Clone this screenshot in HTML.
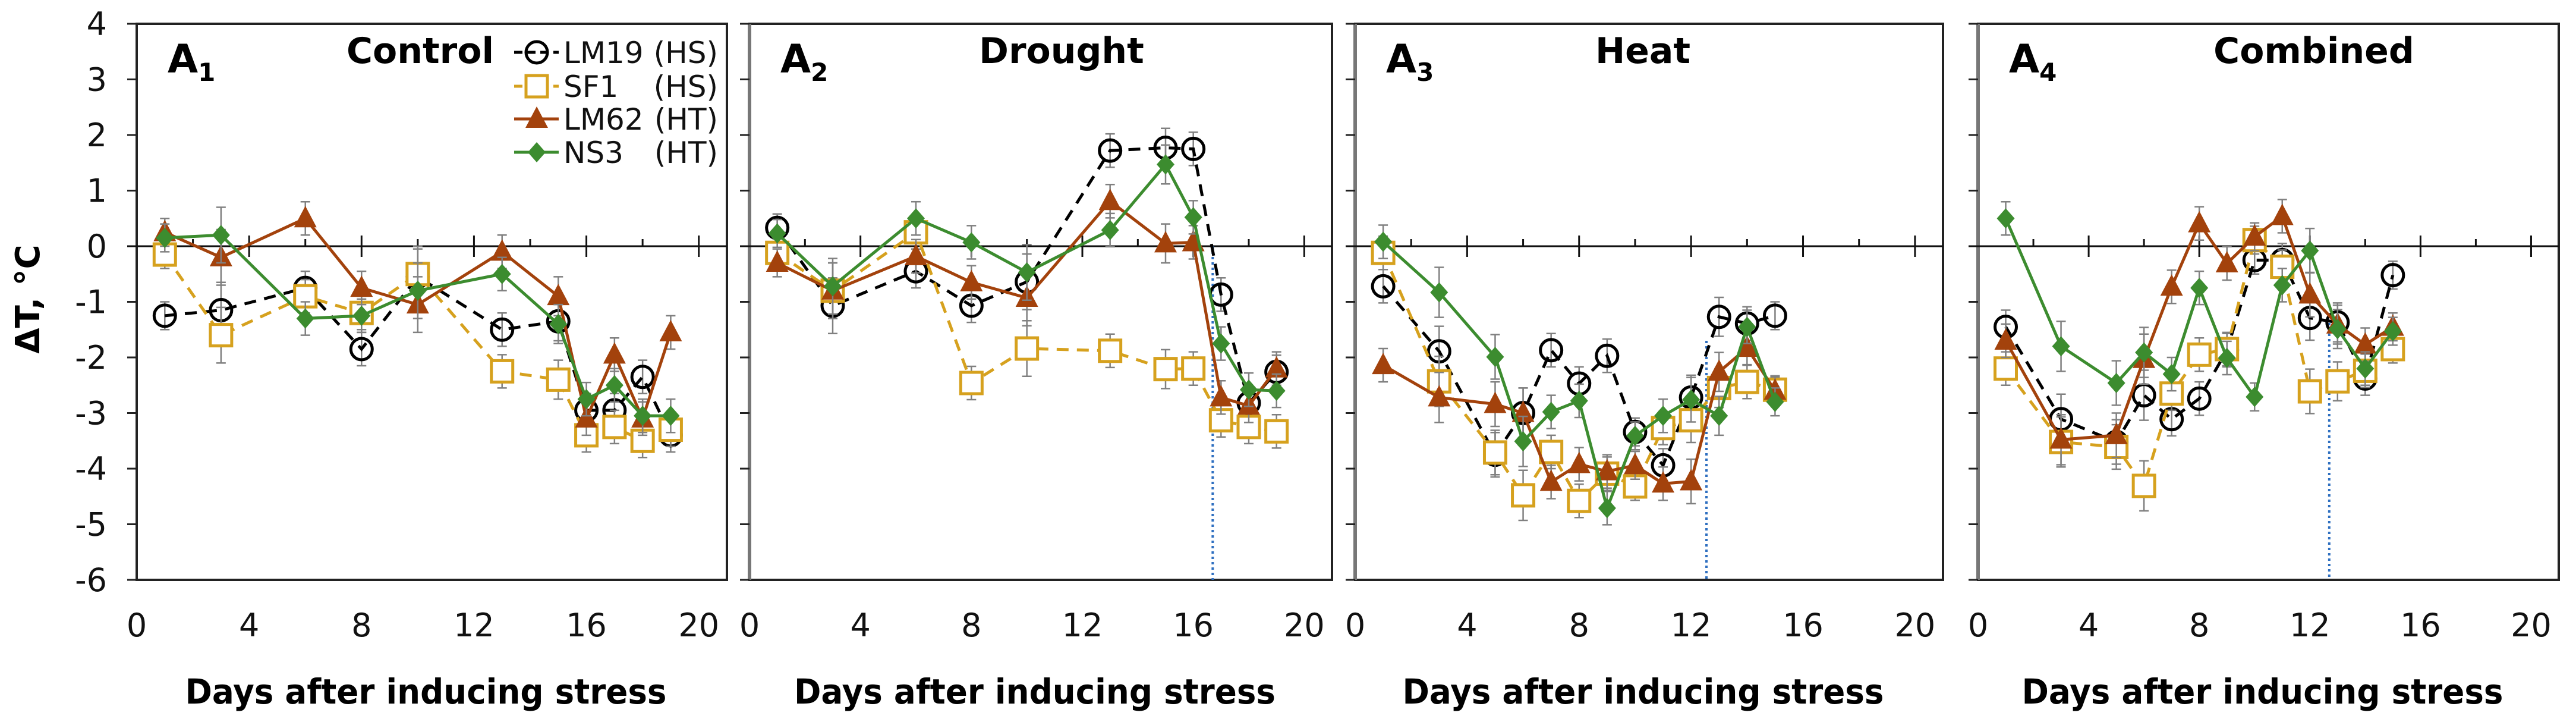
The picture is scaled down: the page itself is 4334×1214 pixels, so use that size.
<!DOCTYPE html>
<html><head><meta charset="utf-8"><style>
html,body{margin:0;padding:0;background:#fff;}
svg{display:block;font-family:"DejaVu Sans","Liberation Sans",sans-serif;}
</style></head><body>
<svg id="chart" width="4334" height="1214" viewBox="0 0 4334 1214" xmlns="http://www.w3.org/2000/svg"></svg>
<script>
// ---- data ----
const panelTitles = ["Control","Drought","Heat","Combined"];
const panelLetters = ["1","2","3","4"];
const seriesNames = ["LM19","SF1","LM62","NS3"];
const seriesGroups = ["(HS)","(HS)","(HT)","(HT)"];
const xTicks = [0,4,8,12,16,20];
const yTicks = [4,3,2,1,0,-1,-2,-3,-4,-5,-6];
const stressDay = [null,16.7,12.55,12.7];

const daysA = [1,3,6,8,10,13,15,16,17,18,19];
const daysB = [1,3,5,6,7,8,9,10,11,12,13,14,15];

const p1LM19 = [-1.25,-1.15,-0.75,-1.85,-0.55,-1.5,-1.35,-2.95,-2.95,-2.35,-3.4];
const p1SF1  = [-0.15,-1.6,-0.9,-1.2,-0.5,-2.25,-2.4,-3.4,-3.25,-3.5,-3.3];
const p1LM62 = [0.25,-0.2,0.5,-0.75,-1.05,-0.1,-0.9,-3.1,-1.95,-3.1,-1.55];
const p1NS3  = [0.15,0.2,-1.3,-1.25,-0.8,-0.5,-1.4,-2.75,-2.5,-3.05,-3.05];

const p2LM19 = [0.33,-1.07,-0.45,-1.07,-0.64,1.72,1.77,1.75,-0.87,-2.82,-2.26];
const p2SF1  = [-0.12,-0.8,0.25,-2.46,-1.84,-1.88,-2.21,-2.2,-3.13,-3.25,-3.33];
const p2LM62 = [-0.3,-0.8,-0.18,-0.65,-0.93,0.81,0.05,0.07,-2.72,-2.87,-2.2];
const p2NS3  = [0.23,-0.72,0.5,0.07,-0.47,0.29,1.47,0.52,-1.75,-2.58,-2.6];

const p3LM19 = [-0.72,-1.89,-3.75,-3.0,-1.87,-2.47,-1.97,-3.34,-3.94,-2.72,-1.27,-1.39,-1.25];
const p3SF1  = [-0.12,-2.43,-3.71,-4.48,-3.7,-4.58,-4.09,-4.32,-3.27,-3.13,-2.55,-2.44,-2.58];
const p3LM62 = [-2.14,-2.72,-2.84,-3.0,-4.24,-3.92,-4.05,-3.94,-4.27,-4.23,-2.26,-1.83,-2.6];
const p3NS3  = [0.08,-0.83,-1.99,-3.51,-2.98,-2.78,-4.71,-3.41,-3.05,-2.76,-3.05,-1.45,-2.8];

const p4LM19 = [-1.45,-3.11,-3.52,-2.68,-3.11,-2.74,-1.87,-0.25,-0.25,-1.29,-1.37,-2.38,-0.52];
const p4SF1  = [-2.2,-3.52,-3.61,-4.31,-2.65,-1.95,-1.85,0.11,-0.37,-2.61,-2.43,-2.24,-1.85];
const p4LM62 = [-1.7,-3.48,-3.4,-2.03,-0.73,0.41,-0.31,0.17,0.54,-0.87,-1.41,-1.77,-1.45];
const p4NS3  = [0.5,-1.8,-2.46,-1.91,-2.3,-0.75,-2.01,-2.71,-0.7,-0.08,-1.49,-2.2,-1.53];

const errA = [0.25,0.5,0.3,0.3,0.5,0.3,0.35,0.3,0.3,0.3,0.3];
const errB = [0.3,0.45,0.4,0.45,0.3,0.3,0.3,0.25,0.3,0.4,0.35,0.3,0.25];

const panelDays = [daysA,daysA,daysB,daysB];
const panelSeries = [
  [p1LM19,p1SF1,p1LM62,p1NS3],
  [p2LM19,p2SF1,p2LM62,p2NS3],
  [p3LM19,p3SF1,p3LM62,p3NS3],
  [p4LM19,p4SF1,p4LM62,p4NS3]
];
const panelErr = [errA,errA,errB,errB];

// ---- layout ----
const boxes = [{l:230,r:1223},{l:1261,r:2241},{l:2280,r:3269},{l:3328,r:4305}];
const TOP = 40, BOT = 975;
const colors = ["#000000","#D6A11E","#A3420C","#3C8C2F"];
const titleX = [707,1786,2764,3893];

const NS = "http://www.w3.org/2000/svg";
const svg = document.getElementById("chart");
function el(tag, attrs, parent, text){
  const e = document.createElementNS(NS, tag);
  for (const k in attrs) e.setAttribute(k, attrs[k]);
  if (text !== undefined) e.textContent = text;
  (parent||svg).appendChild(e);
  return e;
}
function yS(v){ return TOP + (4 - v) * (BOT - TOP) / 10; }

function marker(g, s, x, y){
  let m;
  if (s === 0) m = el("circle",{cx:x,cy:y,r:18,fill:"none",stroke:colors[0],"stroke-width":5},g);
  else if (s === 1) m = el("rect",{x:x-18,y:y-18,width:36,height:36,fill:"#fff",stroke:colors[1],"stroke-width":5},g);
  else if (s === 2) m = el("polygon",{points:`${x},${y-21} ${x-19},${y+15} ${x+19},${y+15}`,fill:colors[2]},g);
  else m = el("polygon",{points:`${x},${y-17} ${x+15},${y} ${x},${y+17} ${x-15},${y}`,fill:colors[3]},g);
  return m;
}

// y-axis title
const yt = el("text",{x:0,y:0,"font-size":56,"font-weight":"bold",transform:"translate(66,503) rotate(-90)","text-anchor":"middle"},svg,"ΔT, °C");



boxes.forEach((b,p)=>{
  const g = el("g",{});
  
  
  const xS = d => b.l + d * (b.r - b.l) / 21;
  const z = yS(0);
  el("rect",{x:b.l,y:TOP,width:b.r-b.l,height:BOT-TOP,fill:"none",stroke:"#222","stroke-width":4},g);
  el("line",{x1:b.l,y1:TOP,x2:b.l,y2:BOT,stroke:p===0?"#222":"#777","stroke-width":p===0?4:6},g);
  yTicks.forEach(v=>{
    el("line",{x1:b.l-16,y1:yS(v),x2:b.l,y2:yS(v),stroke:"#222","stroke-width":3},g);
    if (p===0){
      const t = el("text",{x:180,y:yS(v)+19,"font-size":54,"text-anchor":"end",fill:"#111"},g,String(v));
      
      
    }
  });
  el("line",{x1:b.l-16,y1:z,x2:b.r,y2:z,stroke:"#111","stroke-width":3},g);
  for (let d=2; d<=20; d+=2){
    const major = d%4===0;
    el("line",{x1:xS(d),y1:z-(major?18:12),x2:xS(d),y2:major?z+18:z,stroke:"#111","stroke-width":3},g);
  }
  xTicks.forEach(d=>{
    const t = el("text",{x:xS(d),y:1070,"font-size":54,"text-anchor":"middle",fill:"#111"},g,String(d));
    
    
  });
  const xt = el("text",{x:(b.l+b.r)/2-10,y:1183,"font-size":58,"font-weight":"bold","text-anchor":"middle",textLength:810,lengthAdjust:"spacingAndGlyphs"},g,"Days after inducing stress");
  
  
  const tt = el("text",{x:titleX[p],y:106,"font-size":60,"font-weight":"bold","text-anchor":"middle"},g,panelTitles[p]);
  
  
  const lt = el("text",{x:b.l+52,y:122,"font-size":66,"font-weight":"bold"},g);
  
  
  el("tspan",{},lt,"A");
  el("tspan",{"font-size":42,dy:14},lt,panelLetters[p]);
  if (stressDay[p] !== null){
    const sx = xS(stressDay[p]);
    const y0 = p===1 ? z : (p===2 ? 573 : 543);
    const sl = el("line",{x1:sx,y1:y0,x2:sx,y2:BOT,stroke:"#2E6FC0","stroke-width":4,"stroke-dasharray":"4 5"},g);
    
    
  }
  const days = panelDays[p];
  panelSeries[p].forEach((vals,s)=>{
    const sg = el("g",{},g);
    
    
    const err = panelErr[p];
    vals.forEach((v,i)=>{
      const x = xS(days[i]), e = err[i];
      el("line",{x1:x,y1:yS(v+e),x2:x,y2:yS(v-e),stroke:"#808080","stroke-width":2.5},sg);
      el("line",{x1:x-8,y1:yS(v+e),x2:x+8,y2:yS(v+e),stroke:"#808080","stroke-width":2.5},sg);
      el("line",{x1:x-8,y1:yS(v-e),x2:x+8,y2:yS(v-e),stroke:"#808080","stroke-width":2.5},sg);
    });
    const pts = vals.map((v,i)=>xS(days[i])+","+yS(v)).join(" ");
    const attrs = {points:pts,fill:"none",stroke:colors[s],"stroke-width":5};
    if (s<2) attrs["stroke-dasharray"] = "20 14";
    el("polyline",attrs,sg);
    vals.forEach((v,i)=>{
      const m = marker(sg,s,xS(days[i]),yS(v));
      
      
    });
  });
});

// legend
const lg = el("g",{});


const legY = [88,145,200,256];
seriesNames.forEach((n,s)=>{
  const eg = el("g",{},lg);
  
  
  const a = {x1:865,y1:legY[s],x2:940,y2:legY[s],stroke:colors[s],"stroke-width":5};
  if (s<2) a["stroke-dasharray"]="14 8";
  el("line",a,eg);
  marker(eg,s,903,legY[s]);
  el("text",{x:948,y:legY[s]+18,"font-size":50,fill:"#111"},eg,n);
  el("text",{x:1208,y:legY[s]+18,"font-size":50,fill:"#111","text-anchor":"end"},eg,seriesGroups[s]);
});
</script>
</body></html>
